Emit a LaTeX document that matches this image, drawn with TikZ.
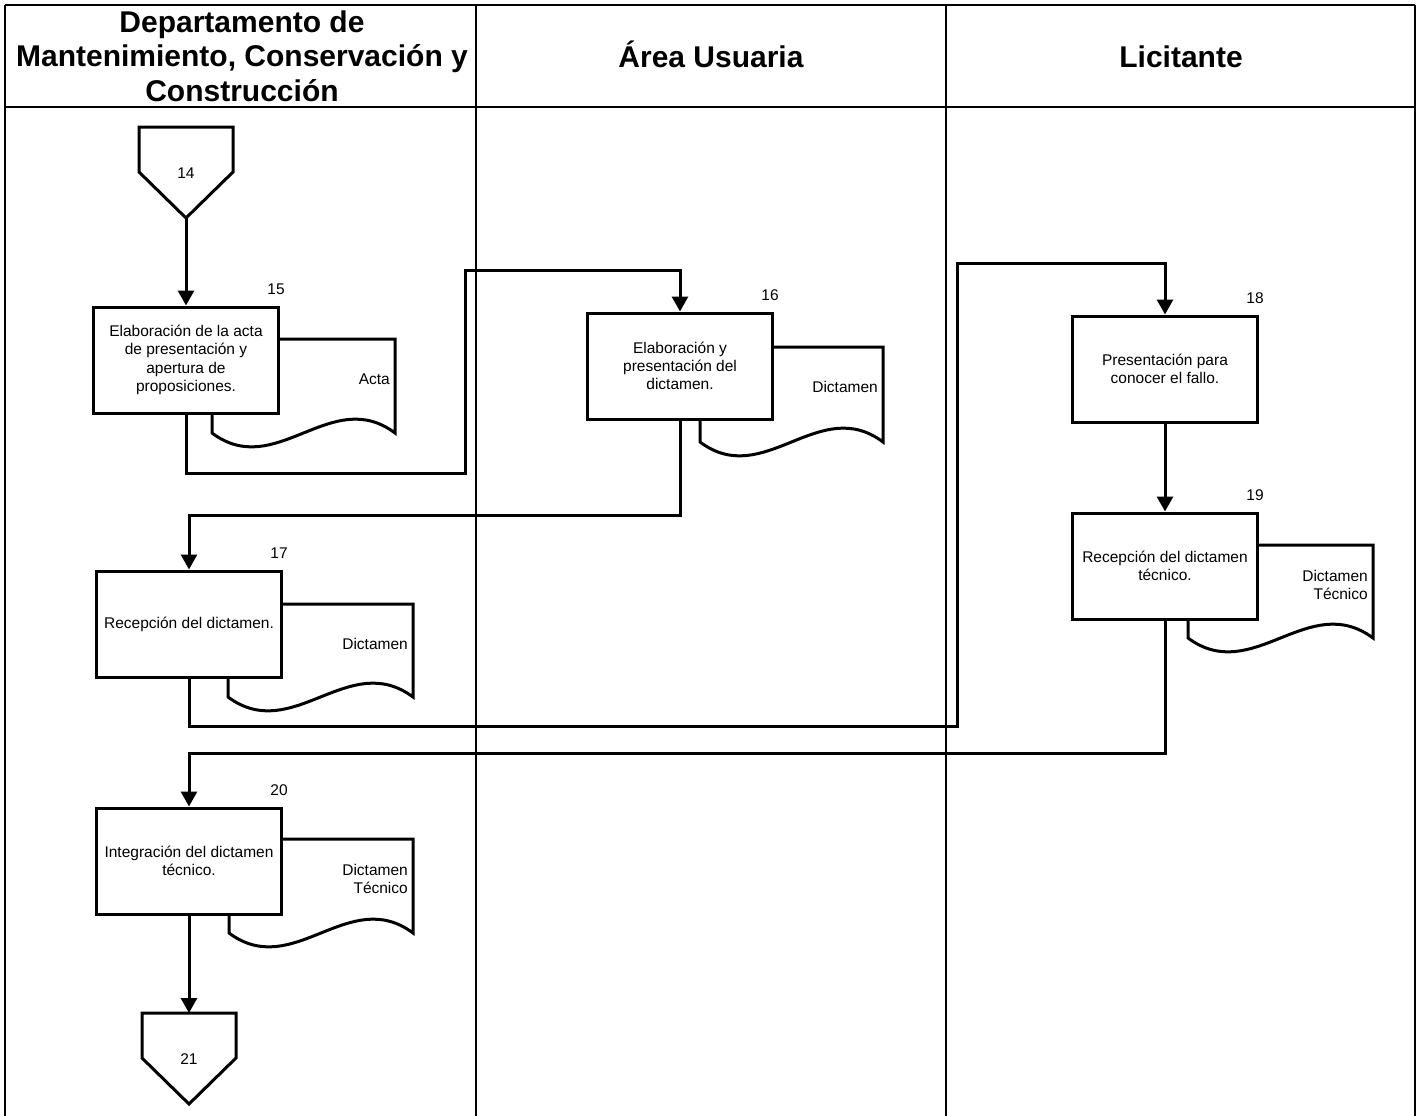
\documentclass[tikz,border=0pt]{standalone}
\usepackage{fontspec}
\setmainfont{Liberation Sans}
\usetikzlibrary{arrows.meta,positioning,calc}

\tikzset{
  carril/.style={line width=2pt},
  borde/.style={line width=2.8pt},
  encabezado/.style={font=\fontsize{30}{34.5}\selectfont\bfseries, align=center},
  proceso/.style={draw, line width=3pt, fill=white, minimum width=185pt, minimum height=106pt,
    align=center, font=\fontsize{15.5}{18.3}\selectfont, inner sep=4pt},
  hoja/.style={draw, line width=3pt, fill=white},
  textohoja/.style={font=\fontsize{15.5}{18.3}\selectfont, align=right, anchor=east, inner sep=0pt},
  paso/.style={font=\fontsize{15.5}{18.3}\selectfont, inner sep=0pt},
  flujo/.style={line width=3pt, -{Triangle[width=16pt,length=15pt]}},
  liga/.style={line width=3pt},
}

% documento: nombre, izq, arriba, der, base, texto
\newcommand{\documento}[6]{%
  \draw[hoja] (#2,#5) -- (#2,#3) -- (#4,#3) -- (#4,#5)
    .. controls ({#4-0.35*(#4-#2)},#5-48) and ({#2+0.35*(#4-#2)},#5+48) .. (#2,#5) -- cycle;
  \node[textohoja] (#1) at (#4-5,#3+40) {#6};
}

% conector fuera de pagina: nombre, x, y (centro de arriba), numero
\newcommand{\conector}[4]{%
  \draw[liga, fill=white] (#2-47,#3) -- (#2+47,#3) -- (#2+47,#3+45) -- (#2,#3+91) -- (#2-47,#3+45) -- cycle;
  \node[paso] (#1) at (#2,#3+46) {#4};
  \coordinate (#1-arriba) at (#2,#3);
  \coordinate (#1-punta) at (#2,#3+91);
}

\begin{document}
\begin{tikzpicture}[x=1pt,y=-1pt]
  \useasboundingbox (0,0) rectangle (1419,1116);

  % carriles
  \draw[borde] (5,5) -- (1415,5);
  \draw[borde] (5,107) -- (1415,107);
  \foreach \x in {5,1415} \draw[borde] (\x,5) -- (\x,1116);
  \foreach \x in {476,946} \draw[carril] (\x,5) -- (\x,1116);

  \node[encabezado] (h1) at (242,56) {Departamento de\\Mantenimiento, Conservación y\\Construcción};
  \node[encabezado, anchor=base] (h2) at (711,67) {Área Usuaria};
  \node[encabezado, anchor=base] (h3) at (1181,67) {Licitante};

  % documentos (van detras de las cajas)
  \documento{d15}{212}{339}{395}{433}{Acta}
  \documento{d16}{700}{347}{883}{442}{Dictamen}
  \documento{d17}{228}{604}{413}{697}{Dictamen}
  \documento{d19}{1188}{545}{1373}{638}{Dictamen\\Técnico}
  \documento{d20}{229}{839}{413}{933}{Dictamen\\Técnico}

  % actividades
  \foreach \n/\x/\y/\t in {
      15/186/360/{Elaboración de la acta\\de presentación y\\apertura de\\proposiciones.},
      16/680/366/{Elaboración y\\presentación del\\dictamen.},
      17/189/624/{Recepción del dictamen.},
      18/1165/369/{Presentación para\\conocer el fallo.},
      19/1165/566/{Recepción del dictamen\\técnico.},
      20/189/861/{Integración del dictamen\\técnico.}} {
    \node[proceso] (b\n) at (\x,\y) {\t};
    \node[paso] (n\n) at (\x+90,\y-71) {\n};
  }

  \conector{p14}{186}{127}{14}
  \conector{p21}{189}{1013}{21}

  % flechas
  \coordinate (k1) at (465,473);
  \coordinate (k2) at (465,270);
  \coordinate (k3) at (680,515);
  \coordinate (k4) at (957,726);
  \coordinate (k5) at (957,263);
  \coordinate (k6) at (1165,753);
  \draw[flujo] (p14-punta) -- (b15.north);
  \draw[flujo] (b15.south) |- (k1) -- (k2) -| (b16.north);
  \draw[flujo] (b16.south) -- (k3) -| (b17.north);
  \draw[flujo] (b17.south) |- (k4) -- (k5) -| (b18.north);
  \draw[flujo] (b18) -- (b19);
  \draw[flujo] (b19.south) -- (k6) -| (b20.north);
  \draw[flujo] (b20) -- (p21-arriba);
\end{tikzpicture}
\end{document}
